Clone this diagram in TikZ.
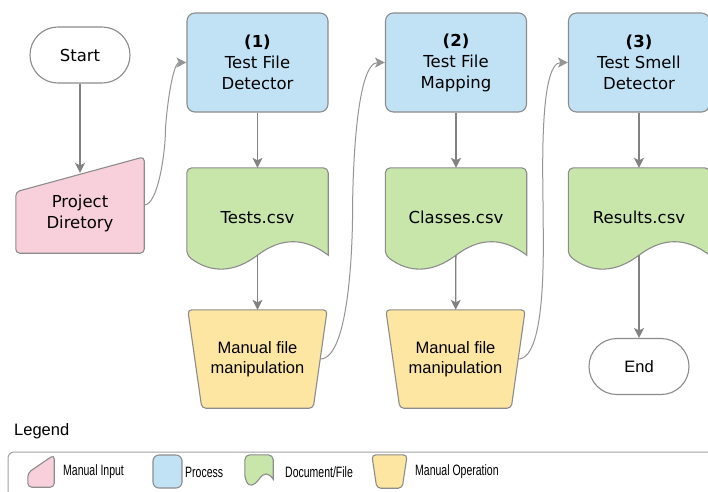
\documentclass[tikz,border=0pt]{standalone}
\usepackage{fontspec}
\setmainfont{DejaVu Sans}
\newfontfamily\helv{Liberation Sans}
\usetikzlibrary{arrows.meta,calc,backgrounds}

\definecolor{procblue}{HTML}{C1E2F5}
\definecolor{docgreen}{HTML}{C8E6AA}
\definecolor{inpink}{HTML}{F8D0DC}
\definecolor{opyellow}{HTML}{FDE6A1}
\definecolor{rimgray}{HTML}{8C8C8C}
\definecolor{flowgray}{HTML}{828282}

\newcommand{\boxfont}{\fontsize{16.5}{21}\selectfont}
\newcommand{\helvfont}{\helv\fontsize{16.5}{20}\selectfont}
\newcommand{\keytext}[1]{\scalebox{0.7}[1]{\helv\fontsize{15}{17}\selectfont #1}}

% outlines drawn round a named node
% document: node, width, wave, fill
\newcommand{\docshape}[4]{\draw[rim,fill=#4,rounded corners=5pt] (#1.south east) -- (#1.north east) -- (#1.north west) -- (#1.south west) [sharp corners]
	.. controls ([shift={(#2/6,-#3)}]#1.south west) and ([shift={(#2/3,-#3)}]#1.south west) .. (#1.south)
	.. controls ([shift={(-#2/3,#3)}]#1.south east) and ([shift={(-#2/6,#3)}]#1.south east) .. (#1.south east) -- cycle;}
% manual input: node, drop at left, rise at right, fill
\newcommand{\inputshape}[4]{\draw[rim,fill=#4,rounded corners=4pt] (#1.south west) -- ([yshift=-#2]#1.north west) -- ([yshift=#3]#1.north east) -- (#1.south east) -- cycle;}
% manual operation: node, inset, fill
\newcommand{\opshape}[3]{\draw[rim,fill=#3,rounded corners=4pt] (#1.north west) -- (#1.north east) -- ([xshift=-#2]#1.south east) -- ([xshift=#2]#1.south west) -- cycle;}

\tikzset{
	rim/.style={draw=rimgray,line width=1.1pt},
	terminal/.style={rim,rounded corners=27.9pt,minimum width=100pt,minimum height=56pt,font=\boxfont},
	process/.style={rim,fill=procblue,rounded corners=8pt,minimum width=141pt,minimum height=99pt,align=center,font=\boxfont},
	docbox/.style={minimum width=141pt,minimum height=87pt,text height=23pt,text depth=0pt,font=\boxfont},
	inbox/.style={minimum width=128pt,minimum height=80pt,align=center,font=\boxfont},
	opbox/.style={minimum width=139pt,minimum height=98pt,align=center,font=\helvfont},
	flow/.style={draw=flowgray,line width=1.3pt,-{Stealth[length=10pt,width=10pt,inset=2.5pt]}},
	backlink/.style={draw=flowgray!85,line width=1pt,-{Stealth[length=10pt,width=10pt,inset=2.5pt]}},
	keylabel/.style={anchor=west,inner sep=0pt},
}

\begin{document}
\begin{tikzpicture}[x=1pt,y=1pt]
	\path[use as bounding box] (0,0) rectangle (708,-491);
	
	\node[terminal] (start) at (80,-55) {Start};
	\node[inbox] (proj) at (80,-213) {Project\\Diretory};
	
	\node[process] (proc1) at (257.5,-62.5) {\textbf{(1)}\\Test File\\Detector};
	\node[process] (proc2) at (456,-62.5) {\textbf{(2)}\\Test File\\Mapping};
	\node[process] (proc3) at (639,-62.5) {\textbf{(3)}\\Test Smell\\Detector};
	
	\node[docbox] (doc1) at (257.5,-211.5) {Tests.csv};
	\node[docbox] (doc2) at (456,-211.5) {Classes.csv};
	\node[docbox] (doc3) at (639,-211.5) {Results.csv};
	
	\node[opbox] (man1) at (257.5,-359) {Manual file\\manipulation};
	\node[opbox] (man2) at (455.5,-359) {Manual file\\manipulation};
	\node[terminal,font=\helvfont] (stop) at (639,-366.5) {End};
	
	\draw[flow] (start) -- (proj);
	\draw[flow] (proc1) -- (doc1);	\draw[flow] (doc1) -- (man1);	%(1)
	\draw[flow] (proc2) -- (doc2);	\draw[flow] (doc2) -- (man2);	%(2)
	\draw[flow] (proc3) -- (doc3);	\draw[flow] (doc3) -- (stop);	%(3)
	
	\draw[backlink] ([yshift=8pt]proj.east) to[out=0,in=-90,looseness=.5] ($([yshift=8pt]proj.east)!.5!(proc1.west)$) to[out=90,in=180,looseness=.5] (proc1.west);
	\draw[backlink] ([xshift=-7pt]man1.east) to[out=0,in=-90,looseness=.5] ($([xshift=-7pt]man1.east)!.5!(proc2.west)$) to[out=90,in=180,looseness=.5] (proc2.west);
	\draw[backlink] ([xshift=-7pt]man2.east) to[out=0,in=-90,looseness=.5] ($([xshift=-7pt]man2.east)!.5!(proc3.west)$) to[out=90,in=180,looseness=.5] (proc3.west);
	
	% legend
	\node[keylabel,font=\helvfont] (legtitle) at (14,-431) {Legend};
	\draw[draw=rimgray!80,line width=1pt,rounded corners=6pt] (8,-452) rectangle (720,-500);
	\node[minimum width=26pt,minimum height=32pt] (kin) at (41,-471) {};
	\node[keylabel] at (63,-472) {\keytext{Manual Input}};
	\node[rim,fill=procblue,rounded corners=6pt,minimum width=29pt,minimum height=33pt] (kproc) at (167.5,-471.5) {};
	\node[keylabel] at (185,-472) {\keytext{Process}};
	\node[minimum width=28pt,minimum height=24pt] (kdoc) at (259,-467) {};
	\node[keylabel] at (285,-472) {\keytext{Document/File}};
	\node[minimum width=35pt,minimum height=33pt] (kop) at (389.5,-471.5) {};
	\node[keylabel] at (415,-472) {\keytext{Manual Operation}};
	
	\begin{scope}[on background layer]
		\fill[white] (0,0) rectangle (708,-491);
		\inputshape{proj}{19pt}{16pt}{inpink}
		\foreach \dn in {doc1,doc2,doc3} {\docshape{\dn}{141}{18}{docgreen}}
		\foreach \mn in {man1,man2} {\opshape{\mn}{14pt}{opyellow}}
		\inputshape{kin}{18pt}{0pt}{inpink}
		\docshape{kdoc}{28}{7}{docgreen}
		\opshape{kop}{5pt}{opyellow}
	\end{scope}
\end{tikzpicture}
\end{document}
